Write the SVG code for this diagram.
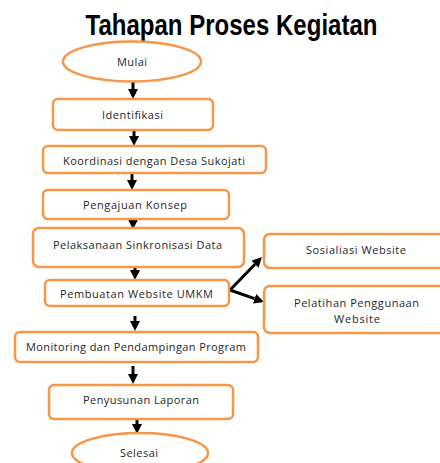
<svg xmlns="http://www.w3.org/2000/svg" width="440" height="463" viewBox="0 0 440 463">
<defs>
<style>
.box{fill:#fff;stroke:#F79646;stroke-width:2.5}
.t{font-family:"Open Sans","Liberation Sans",sans-serif;font-size:11px;fill:#262626;text-anchor:middle}
.title{font-family:"Liberation Sans",Arial,sans-serif;font-weight:bold;font-size:29px;fill:#000;text-anchor:middle}
.c{stroke:#000;stroke-width:3;fill:none}
</style>
<marker id="ah" viewBox="0 0 10 10" refX="0" refY="5" markerWidth="10" markerHeight="10" markerUnits="userSpaceOnUse" orient="auto">
<path d="M0,0 L10,5 L0,10 z" fill="#000"/>
</marker>
</defs>
<rect width="440" height="463" fill="#fff"/>
<text class="title" x="231.5" y="35" textLength="292" lengthAdjust="spacingAndGlyphs">Tahapan Proses Kegiatan</text>

<g id="connectors">
<line class="c" x1="133" y1="82" x2="133" y2="89" marker-end="url(#ah)"/>
<line class="c" x1="134" y1="130" x2="134" y2="136" marker-end="url(#ah)"/>
<line class="c" x1="132" y1="173" x2="132" y2="180" marker-end="url(#ah)"/>
<line class="c" x1="133" y1="219" x2="133" y2="219.5" marker-end="url(#ah)"/>
<line class="c" x1="135" y1="267" x2="135" y2="270" marker-end="url(#ah)"/>
<line class="c" x1="135" y1="316" x2="135" y2="321" marker-end="url(#ah)"/>
<line class="c" x1="133" y1="366" x2="133" y2="374" marker-end="url(#ah)"/>
<line class="c" x1="137" y1="419" x2="137" y2="424" marker-end="url(#ah)"/>
<line class="c" x1="230" y1="290" x2="255" y2="264.2" marker-end="url(#ah)"/>
<line class="c" x1="230" y1="290" x2="254.6" y2="298.7" marker-end="url(#ah)"/>
</g>

<g id="mulai">
<ellipse class="box" cx="132" cy="61.5" rx="69" ry="20"/>
<text class="t" x="132" y="65.5" textLength="30" lengthAdjust="spacing">Mulai</text>
</g>
<g id="identifikasi">
<rect class="box" x="53" y="99" width="160" height="31" rx="5"/>
<text class="t" x="132.5" y="119" textLength="61" lengthAdjust="spacing">Identifikasi</text>
</g>
<g id="koordinasi">
<rect class="box" x="43" y="146" width="223" height="27" rx="5"/>
<text class="t" x="154" y="165" textLength="182" lengthAdjust="spacing">Koordinasi dengan Desa Sukojati</text>
</g>
<g id="pengajuan">
<rect class="box" x="43" y="190" width="186" height="29" rx="5"/>
<text class="t" x="135" y="209" textLength="104" lengthAdjust="spacing">Pengajuan Konsep</text>
</g>
<g id="pelaksanaan">
<rect class="box" x="33" y="228" width="211" height="39" rx="6"/>
<text class="t" x="137.5" y="249" textLength="169" lengthAdjust="spacing">Pelaksanaan Sinkronisasi Data</text>
</g>
<g id="pembuatan">
<rect class="box" x="45" y="280" width="184" height="26" rx="5"/>
<text class="t" x="136.5" y="298" textLength="153" lengthAdjust="spacing">Pembuatan Website UMKM</text>
</g>
<g id="sosialiasi">
<rect class="box" x="264" y="234" width="186" height="34" rx="6"/>
<text class="t" x="356" y="254" textLength="100" lengthAdjust="spacing">Sosialiasi Website</text>
</g>
<g id="pelatihan">
<rect class="box" x="264" y="286" width="186" height="47" rx="6"/>
<text class="t" x="356.5" y="307" textLength="125" lengthAdjust="spacing">Pelatihan Penggunaan</text>
<text class="t" x="357" y="323" textLength="46" lengthAdjust="spacing">Website</text>
</g>
<g id="monitoring">
<rect class="box" x="15" y="332" width="243" height="30" rx="5"/>
<text class="t" x="136" y="351" textLength="220" lengthAdjust="spacing">Monitoring dan Pendampingan Program</text>
</g>
<g id="penyusunan">
<rect class="box" x="49" y="385" width="184" height="34" rx="5"/>
<text class="t" x="141" y="404" textLength="116" lengthAdjust="spacing">Penyusunan Laporan</text>
</g>
<g id="selesai">
<ellipse class="box" cx="140" cy="453" rx="68" ry="20"/>
<text class="t" x="139" y="457" textLength="38" lengthAdjust="spacing">Selesai</text>
</g>
</svg>
